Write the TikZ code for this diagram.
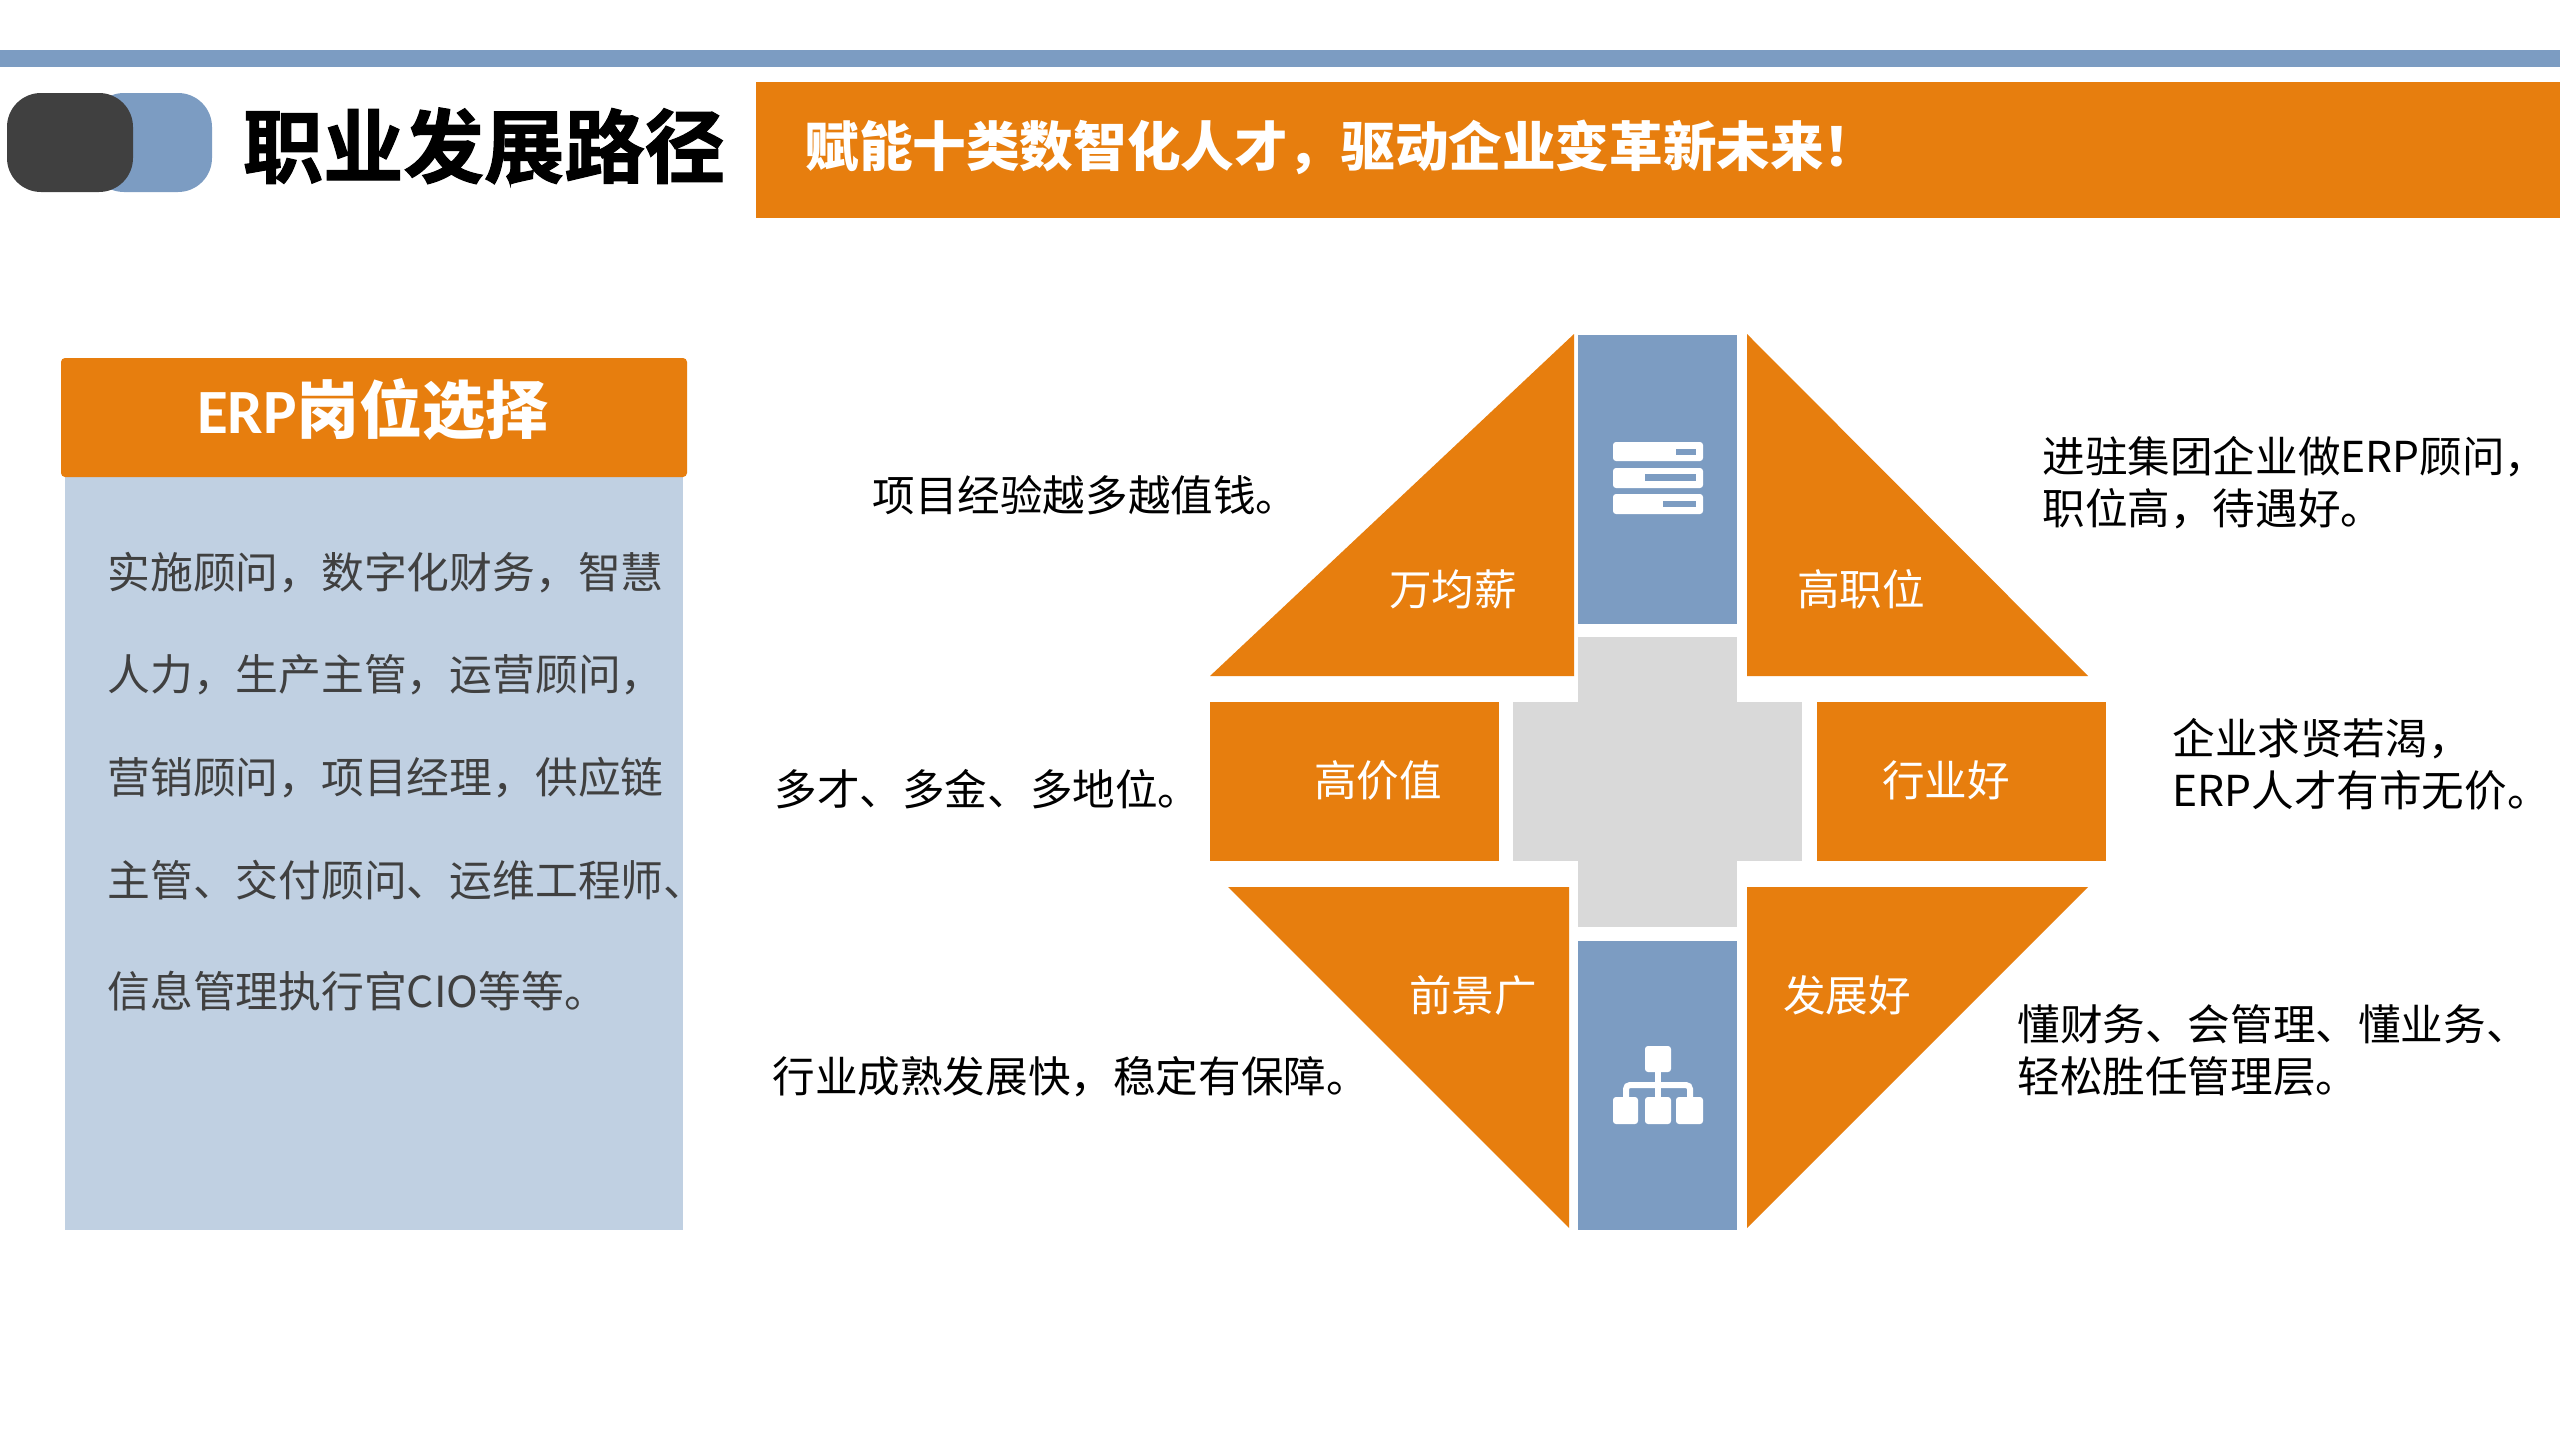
\documentclass[tikz,border=0pt]{standalone}
\usepackage{fontspec}
\setmainfont{Noto Sans CJK SC}
\newfontfamily\narrowlatin{Carlito}
\newfontfamily\heavycjk[BoldFont={Noto Sans CJK SC Bold},BoldFeatures={FakeBold=1.4}]{Noto Sans CJK SC}
\definecolor{orangeA}{HTML}{E77E0E}
\definecolor{blueA}{HTML}{7C9CC2}
\definecolor{paleA}{HTML}{C0D0E2}
\definecolor{grayA}{HTML}{D9D9D9}
\definecolor{darkA}{HTML}{404040}
\newcommand{\fsz}[1]{\fontsize{#1}{#1}\selectfont}
\tikzset{
  org/.style={fill=orangeA,draw=none},
  blu/.style={fill=blueA,draw=none},
  ico/.style={fill=white,draw=none,rounded corners=1.5pt},
  tag/.style={text=white,font=\fsz{21.3pt},inner sep=0pt,anchor=center},
  note/.style={text=black,font=\fontsize{21.3pt}{26pt}\selectfont,inner sep=0pt,anchor=west,align=left},
  body/.style={text=darkA,font=\fsz{21.4pt},inner sep=0pt,anchor=west},
}
\begin{document}
\begin{tikzpicture}[x=0.5pt,y=-0.5pt]
\useasboundingbox (0,0) rectangle (2560,1440);
\fill[white] (0,0) rectangle (2560,1440);
% top band
\fill[blu] (0,50) rectangle (2560,67);
\fill[blu,rounded corners=17pt] (90,93) rectangle (212,192);
\fill[darkA,rounded corners=17pt] (7,93) rectangle (133,192);
\node[inner sep=0pt,text=black,font=\heavycjk\bfseries\fsz{40.2pt}] (title) at (484,146) {职业发展路径};
\fill[org] (756,82) rectangle (2560,218);
\node[inner sep=0pt,anchor=west,text=white,font=\bfseries\fsz{26.8pt}] (banner) at (805,147) {赋能十类数智化人才，驱动企业变革新未来！};
% left panel
\fill[paleA] (65,470) rectangle (683,1230);
\fill[org,rounded corners=2pt] (61,358) rectangle (687,477);
\node[inner sep=0pt,text=white,font=\bfseries\fsz{31.5pt}] (head) at (373,409) {{\narrowlatin ERP}岗位选择};
\node[body] (b1) at (107,573) {实施顾问，数字化财务，智慧};
\node[body] (b2) at (107,675) {人力，生产主管，运营顾问，};
\node[body] (b3) at (107,778) {营销顾问，项目经理，供应链};
\node[body] (b4) at (107,880) {主管、交付顾问、运维工程师、};
\node[body] (b5) at (107,991) {信息管理执行官CIO等等。};
% central shapes
\fill[org] (1574,334) -- (1210,676) -- (1574,676) -- cycle;
\fill[org] (1747,334) -- (2088,676) -- (1747,676) -- cycle;
\fill[org] (1228,887) -- (1569,887) -- (1569,1228) -- cycle;
\fill[org] (1747,887) -- (2088,887) -- (1747,1228) -- cycle;
\fill[org] (1210,702) rectangle (1499,861);
\fill[org] (1817,702) rectangle (2106,861);
\fill[grayA] (1513,702) rectangle (1802,861);
\fill[grayA] (1578,637) rectangle (1737,927);
\fill[blu] (1578,335) rectangle (1737,624);
\fill[blu] (1578,941) rectangle (1737,1230);
% server icon
\fill[ico] (1613,442) rectangle (1703,461);
\fill[ico] (1613,468) rectangle (1703,488);
\fill[ico] (1613,494) rectangle (1703,514);
\fill[blu] (1676,449) rectangle (1696,455);
\fill[blu] (1645,474) rectangle (1696,481);
\fill[blu] (1663,501) rectangle (1696,507);
% hierarchy icon
\draw[white,line width=3pt,rounded corners=2pt] (1626,1100) -- (1626,1085) -- (1690,1085) -- (1690,1100);
\draw[white,line width=3pt] (1658,1070) -- (1658,1100);
\fill[ico] (1645,1046) rectangle (1671,1072);
\fill[ico] (1613,1097) rectangle (1638,1124);
\fill[ico] (1645,1097) rectangle (1671,1124);
\fill[ico] (1676,1097) rectangle (1703,1124);
% tags
\node[tag] (t1) at (1453,589) {万均薪};
\node[tag] (t2) at (1861,589) {高职位};
\node[tag] (t3) at (1378,780) {高价值};
\node[tag] (t4) at (1946,780) {行业好};
\node[tag] (t5) at (1473,995) {前景广};
\node[tag] (t6) at (1847,995) {发展好};
% notes
\node[note] (n1) at (872,495) {项目经验越多越值钱。};
\node[note] (n2) at (2042,483) {进驻集团企业做ERP顾问，\\职位高，待遇好。};
\node[note] (n3) at (2172,764) {企业求贤若渴，\\ERP人才有市无价。};
\node[note] (n4) at (774,789) {多才、多金、多地位。};
\node[note] (n5) at (772,1077) {行业成熟发展快，稳定有保障。};
\node[note] (n6) at (2017,1050) {懂财务、会管理、懂业务、\\轻松胜任管理层。};
\end{tikzpicture}
\end{document}
